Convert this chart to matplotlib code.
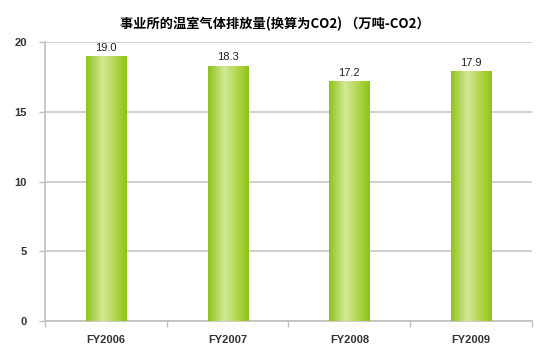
import matplotlib
matplotlib.use("Agg")
import matplotlib.pyplot as plt
import numpy as np
from matplotlib.colors import LinearSegmentedColormap

categories = ["FY2006", "FY2007", "FY2008", "FY2009"]
values = [19.0, 18.3, 17.2, 17.9]
yticks = [0, 5, 10, 15, 20]
title = "事业所的温室气体排放量(换算为CO2) （万吨-CO2）"

plt.rcParams['font.family'] = ['Liberation Sans', 'Noto Sans CJK SC', 'DejaVu Sans']

fig = plt.figure(figsize=(5.49, 3.53), dpi=100)
ax = fig.add_axes([0.082, 0.0907, 0.887, 0.790])

x = np.arange(len(categories))
bw = 0.33
bars = ax.bar(x, values, width=bw, color='#A6CE39', zorder=3)

cmap = LinearSegmentedColormap.from_list('g', [(0, '#8DC31B'), (0.4, '#D3E996'), (0.8, '#A8D03A'), (1, '#8DC31B')])
grad = np.linspace(0, 1, 256).reshape(1, -1)
for b in bars:
    x0, y0 = b.get_x(), b.get_y()
    w, h = b.get_width(), b.get_height()
    im = ax.imshow(grad, cmap=cmap, aspect='auto', extent=[x0, x0 + w, y0, y0 + h], zorder=4)
    im.set_clip_path(b)

for xi, v in zip(x, values):
    ax.text(xi, v + 0.25, f"{v:.1f}", ha='center', va='bottom', fontsize=8, color='#222222', zorder=5)

ax.set_xlim(-0.5, len(categories) - 0.5)
ax.set_ylim(0, 20)
ax.set_yticks(yticks)
ax.set_yticklabels([str(t) for t in yticks], fontsize=8, fontweight='bold', color='#333333')
ax.set_xticks(x)
ax.set_xticklabels(categories, fontsize=8, fontweight='bold', color='#333333')
ax.set_xticks(np.arange(-0.5, len(categories), 1), minor=True)
ax.tick_params(axis='x', which='major', length=0, pad=10)
ax.tick_params(axis='x', which='minor', length=4, color='#C0C0C0', width=1)
ax.tick_params(axis='y', length=4, color='#C0C0C0', width=1, pad=9)

ax.grid(axis='y', color='#C8C8C8', linewidth=1.2, zorder=0)
for s in ['top', 'right']:
    ax.spines[s].set_visible(False)
for s in ['left', 'bottom']:
    ax.spines[s].set_color('#C0C0C0')
    ax.spines[s].set_linewidth(1.2)

fig.text(0.5, 0.932, title, ha='center', va='center', fontsize=9.5, fontweight='bold',
         family=['Noto Sans CJK SC', 'DejaVu Sans'])

fig.savefig("out.png", dpi=100)
